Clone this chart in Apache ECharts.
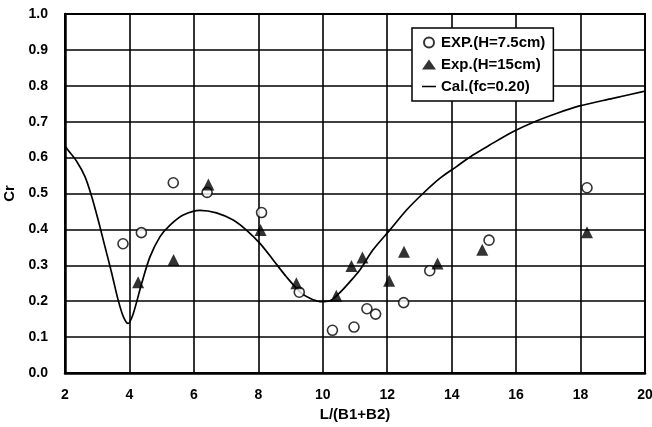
<!DOCTYPE html>
<html><head><meta charset="utf-8">
<script src="https://cdn.jsdelivr.net/npm/echarts@6/dist/echarts.min.js"></script>
<style>html,body{margin:0;padding:0;background:#fff}#c{width:652px;height:427px}</style>
</head><body><div id="c"></div>
<script>
const expSmallX = [3.80, 4.37, 5.36, 6.41, 8.10, 9.27, 10.30, 10.97, 11.37, 11.64, 12.51, 13.32, 15.16, 18.20];
const expSmallY = [0.360, 0.391, 0.530, 0.503, 0.447, 0.225, 0.119, 0.128, 0.179, 0.164, 0.196, 0.285, 0.370, 0.516];
const expLargeX = [4.27, 5.37, 6.45, 8.07, 9.18, 10.42, 10.89, 11.23, 12.06, 12.52, 13.56, 14.95, 18.20];
const expLargeY = [0.253, 0.315, 0.525, 0.398, 0.250, 0.215, 0.298, 0.322, 0.257, 0.338, 0.305, 0.343, 0.392];
const calX = [1.90, 2.05, 2.36, 2.62, 2.83, 3.03, 3.24, 3.45, 3.65, 3.81, 3.96, 4.12, 4.38, 4.64, 4.95, 5.26, 5.67, 6.19, 6.70, 7.22, 7.63, 8.05, 8.46, 8.87, 9.29, 9.60, 9.91, 10.22, 10.53, 10.84, 11.15, 11.56, 12.08, 12.60, 13.11, 13.63, 14.15, 14.66, 15.18, 15.90, 16.52, 17.25, 17.97, 19.00, 20.00];
const calY = [0.649, 0.626, 0.590, 0.547, 0.491, 0.426, 0.352, 0.278, 0.203, 0.157, 0.138, 0.166, 0.250, 0.324, 0.380, 0.412, 0.440, 0.453, 0.446, 0.426, 0.398, 0.361, 0.315, 0.268, 0.226, 0.208, 0.199, 0.201, 0.224, 0.254, 0.287, 0.343, 0.398, 0.454, 0.500, 0.542, 0.575, 0.607, 0.635, 0.672, 0.698, 0.723, 0.744, 0.765, 0.785];
const seriesNames = ['EXP.(H=7.5cm)', 'Exp.(H=15cm)', 'Cal.(fc=0.20)'];
const xTitle = 'L/(B1+B2)';
const yTitle = 'Cr';

const zip = (a, b) => a.map((v, i) => [v, b[i]]);
const FONT = '"Liberation Sans", Arial, sans-serif';
const lineIcon = 'path://M0,0L0.01,0L0,0.01Z M0,8.4L28,8.4L28,11.6L0,11.6Z M0,20L0.01,20L0,19.99Z';
const chart = echarts.init(document.getElementById('c'), null, {renderer: 'canvas'});
chart.setOption({
  animation: false,
  backgroundColor: '#fff',
  grid: {left: 65, top: 14, right: 7, bottom: 54, show: true, borderColor: '#000', borderWidth: 2,
    backgroundColor: 'transparent', containLabel: false, outerBoundsMode: 'none'},
  legend: {
    orient: 'vertical', left: 412, top: 28, padding: [7, 8, 7, 10],
    backgroundColor: '#fff', borderColor: '#000', borderWidth: 1.5, borderRadius: 0,
    itemWidth: 14, itemHeight: 10, itemGap: 7,
    textStyle: {fontFamily: FONT, fontWeight: 'bold', fontSize: 15, color: '#000'},
    data: [
      {name: seriesNames[0]},
      {name: seriesNames[1]},
      {name: seriesNames[2], icon: lineIcon, itemStyle: {color: '#000', borderWidth: 0}}
    ]
  },
  xAxis: {
    type: 'value', min: 2, max: 20, interval: 2,
    name: xTitle, nameLocation: 'middle', nameGap: 34,
    nameTextStyle: {fontFamily: FONT, fontWeight: 'bold', fontSize: 15, color: '#000'},
    axisLine: {show: true, lineStyle: {color: '#000', width: 2.5}},
    axisTick: {show: false},
    axisLabel: {fontFamily: FONT, fontWeight: 'bold', fontSize: 14, color: '#000', margin: 15},
    splitLine: {show: true, lineStyle: {color: '#000', width: 1.6}}
  },
  yAxis: {
    type: 'value', min: 0, max: 1, interval: 0.1,
    name: yTitle, nameLocation: 'middle', nameGap: 44, nameRotate: 90,
    nameTextStyle: {fontFamily: FONT, fontWeight: 'bold', fontSize: 15, color: '#000'},
    axisLine: {show: true, lineStyle: {color: '#000', width: 2.5}},
    axisTick: {show: false},
    axisLabel: {fontFamily: FONT, fontWeight: 'bold', fontSize: 14, color: '#000', margin: 17,
      formatter: v => v.toFixed(1)},
    splitLine: {show: true, lineStyle: {color: '#000', width: 1.6}}
  },
  series: [
    {name: seriesNames[0], type: 'scatter', symbol: 'circle', symbolSize: 10, symbolKeepAspect: true,
     itemStyle: {color: '#fff', borderColor: '#000', borderWidth: 1.6}, data: zip(expSmallX, expSmallY), z: 3},
    {name: seriesNames[1], type: 'scatter', symbol: 'triangle', symbolSize: [12, 12], symbolKeepAspect: true,
     itemStyle: {color: '#000'}, data: zip(expLargeX, expLargeY), z: 4},
    {name: seriesNames[2], type: 'line', symbol: 'none', smooth: 0.3, clip: true,
     lineStyle: {color: '#000', width: 1.7}, itemStyle: {color: '#000'}, data: zip(calX, calY), z: 2}
  ]
});
</script></body></html>
